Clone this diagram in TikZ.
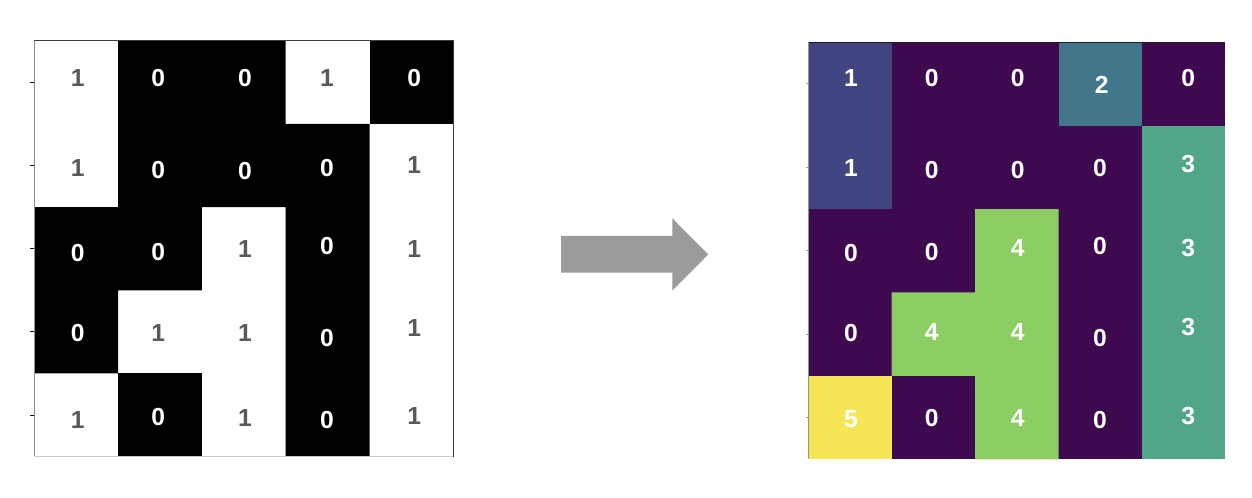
\documentclass[tikz,border=0pt]{standalone}
\usepackage{fontspec}
\setsansfont{Liberation Sans}
\usepackage{tikz}
\usepackage{xcolor}

\definecolor{numgray}{RGB}{89,89,89}
\definecolor{vir0}{RGB}{62,9,78}
\definecolor{vir1}{RGB}{65,68,128}
\definecolor{vir2}{RGB}{66,118,138}
\definecolor{vir3}{RGB}{82,166,136}
\definecolor{vir4}{RGB}{141,206,100}
\definecolor{vir5}{RGB}{246,230,86}

\tikzset{
    cellnum/.style={inner sep=0pt, font=\sffamily\bfseries\fontsize{18.5}{20}\selectfont},
    onlight/.style={cellnum, text=numgray},
    ondark/.style={cellnum, text=white},
    ytick/.style={line width=0.75pt}
}

\begin{document}
\begin{tikzpicture}[x=0.75pt,y=0.75pt,yscale=-1,xscale=1]
    \useasboundingbox (0,0) rectangle (1252,498);

    %Binary image [id:left]
    \fill [white] (34.3,40.7) rectangle (453.3,456.7);
    \fill [black] (118.1,40.7) -- (285.7,40.7) -- (285.7,123.9) -- (369.5,123.9) -- (369.5,456.7) -- (285.7,456.7) -- (285.7,207.1) -- (201.9,207.1) -- (201.9,290.3) -- (118.1,290.3) -- (118.1,373.5) -- (34.3,373.5) -- (34.3,207.1) -- (118.1,207.1) -- cycle ;
    \fill [black] (369.5,40.7) rectangle (453.3,123.9);
    \fill [black] (118.1,373.5) rectangle (201.9,456.7);
    % Frame
    \draw [color={rgb, 255:red, 60; green, 60; blue, 60 }, line width=0.75pt] (34.3,40.7) -- (453.3,40.7) -- (453.3,456.7) ;
    \draw [color={rgb, 255:red, 140; green, 140; blue, 140 }, line width=0.75pt] (34.3,40.7) -- (34.3,456.7) ;
    \draw [color={rgb, 255:red, 205; green, 205; blue, 205 }, line width=0.75pt] (34.3,456.7) -- (453.3,456.7) ;
    % Ticks
    \draw [ytick] (30,82.3) -- (34.3,82.3) (30,165.5) -- (34.3,165.5) (30,248.7) -- (34.3,248.7) (30,331.9) -- (34.3,331.9) (30,415.1) -- (34.3,415.1) ;

    % Text Node
    \node [onlight] (l11) at (77.7,78.3) {1};
    \node [ondark] (l12) at (158.3,78.3) {0};
    \node [ondark] (l13) at (245,78.3) {0};
    \node [onlight] (l14) at (327,78.3) {1};
    \node [ondark] (l15) at (414.3,78.3) {0};
    % Text Node
    \node [onlight] (l21) at (77.7,168) {1};
    \node [ondark] (l22) at (158.3,170) {0};
    \node [ondark] (l23) at (245,170.7) {0};
    \node [ondark] (l24) at (327,167.7) {0};
    \node [onlight] (l25) at (414.3,165) {1};
    % Text Node
    \node [ondark] (l31) at (77.7,253) {0};
    \node [ondark] (l32) at (158.3,251.7) {0};
    \node [onlight] (l33) at (245,249) {1};
    \node [ondark] (l34) at (327,246) {0};
    \node [onlight] (l35) at (414.3,249) {1};
    % Text Node
    \node [ondark] (l41) at (77.7,333) {0};
    \node [onlight] (l42) at (158.3,333) {1};
    \node [onlight] (l43) at (245,333) {1};
    \node [ondark] (l44) at (327,338) {0};
    \node [onlight] (l45) at (414.3,328) {1};
    % Text Node
    \node [onlight] (l51) at (77.7,420) {1};
    \node [ondark] (l52) at (158.3,416.7) {0};
    \node [onlight] (l53) at (245,418) {1};
    \node [ondark] (l54) at (327,420) {0};
    \node [onlight] (l55) at (414.3,416) {1};

    %Right Arrow [id:arrow]
    \draw [draw opacity=0][fill={rgb, 255:red, 155; green, 155; blue, 155 }, fill opacity=1] (561,236) -- (672.3,236) -- (672.3,218.3) -- (708.3,254.4) -- (672.3,290.7) -- (672.3,272.7) -- (561,272.7) -- cycle ;

    %Labelled image [id:right]
    \fill [vir0] (808.3,42.3) rectangle (1225.3,459.3);
    \fill [vir1] (808.3,42.3) rectangle (891.7,209.1);
    \fill [vir2] (1058.5,42.3) rectangle (1141.9,125.7);
    \fill [vir3] (1141.9,125.7) rectangle (1225.3,459.3);
    \fill [vir4] (975.1,209.1) -- (1058.5,209.1) -- (1058.5,459.3) -- (975.1,459.3) -- (975.1,375.9) -- (891.7,375.9) -- (891.7,292.5) -- (975.1,292.5) -- cycle ;
    \fill [vir5] (808.3,375.9) rectangle (891.7,459.3);
    % Frame
    \draw [color={rgb, 255:red, 30; green, 30; blue, 30 }, line width=0.75pt] (808.3,42.3) -- (1225.3,42.3) ;
    \draw [color={rgb, 255:red, 150; green, 150; blue, 150 }, line width=0.5pt] (808.3,42.3) -- (808.3,459.3) ;
    % Ticks
    \draw [ytick, color={rgb, 255:red, 150; green, 150; blue, 150 }] (805.8,84) -- (808.3,84) (805.8,167.4) -- (808.3,167.4) (805.8,250.8) -- (808.3,250.8) (805.8,334.2) -- (808.3,334.2) (805.8,417.6) -- (808.3,417.6) ;

    % Text Node
    \node [ondark] (r11) at (851,78.3) {1};
    \node [ondark] (r12) at (931.7,78.3) {0};
    \node [ondark] (r13) at (1017.7,78.3) {0};
    \node [ondark] (r14) at (1101.7,85) {2};
    \node [ondark] (r15) at (1188.3,78.3) {0};
    % Text Node
    \node [ondark] (r21) at (851,168.3) {1};
    \node [ondark] (r22) at (931.7,170) {0};
    \node [ondark] (r23) at (1017.7,170) {0};
    \node [ondark] (r24) at (1100,167.7) {0};
    \node [ondark] (r25) at (1188.3,164.3) {3};
    % Text Node
    \node [ondark] (r31) at (851,253.3) {0};
    \node [ondark] (r32) at (931.7,251.7) {0};
    \node [ondark] (r33) at (1017.7,248.3) {4};
    \node [ondark] (r34) at (1100,246) {0};
    \node [ondark] (r35) at (1188.3,248.3) {3};
    % Text Node
    \node [ondark] (r41) at (851,333.3) {0};
    \node [ondark] (r42) at (931.7,332.3) {4};
    \node [ondark] (r43) at (1017.7,332.3) {4};
    \node [ondark] (r44) at (1100,337.7) {0};
    \node [ondark] (r45) at (1188.3,327.3) {3};
    % Text Node
    \node [ondark] (r51) at (851,419.3) {5};
    \node [ondark] (r52) at (931.7,417.7) {0};
    \node [ondark] (r53) at (1017.7,417.7) {4};
    \node [ondark] (r54) at (1100,420) {0};
    \node [ondark] (r55) at (1188.3,415.7) {3};

\end{tikzpicture}
\end{document}
